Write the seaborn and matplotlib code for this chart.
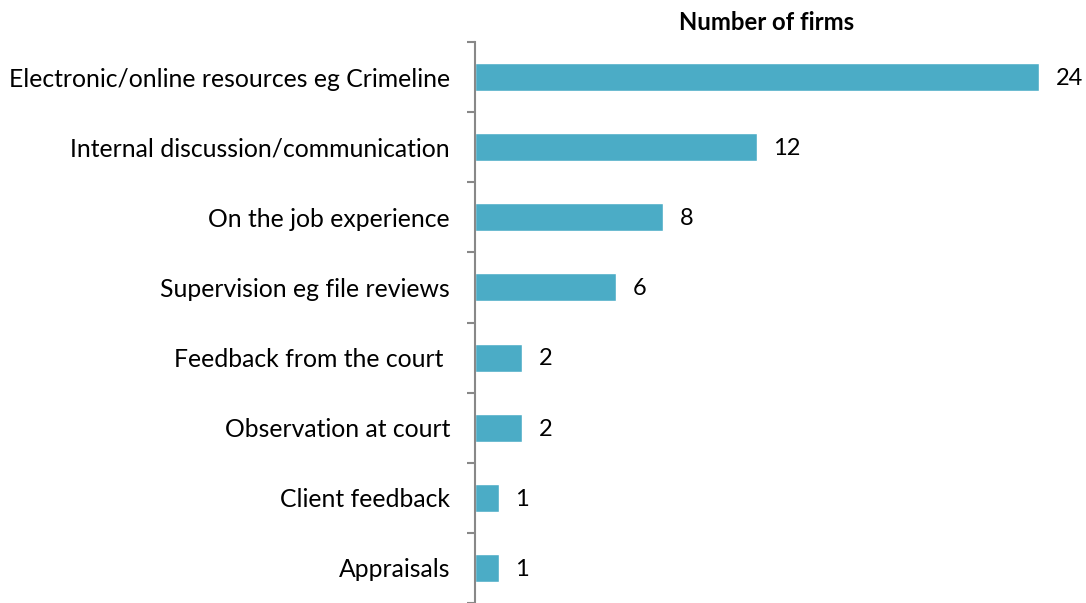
import seaborn as sns
import pandas as pd
import matplotlib.pyplot as plt
import numpy as np

sns.set_theme(style='white')
plt.rcParams['font.family'] = ['Lato', 'DejaVu Sans']

categories = ['Electronic/online resources eg Crimeline',
              'Internal discussion/communication',
              'On the job experience',
              'Supervision eg file reviews',
              'Feedback from the court ',
              'Observation at court',
              'Client feedback',
              'Appraisals']
firms = [24, 12, 8, 6, 2, 2, 1, 1]

df = pd.DataFrame({'method': categories, 'firms': firms})

fig = plt.figure(figsize=(10.86, 6.03), dpi=100)
ax = fig.add_axes([475 / 1086, 0.0, 1 - 475 / 1086, 1 - 42 / 603])

sns.barplot(data=df, x='firms', y='method', orient='h', color='#4BACC6',
            saturation=1, width=0.4, ax=ax)

# value labels right of each bar
for i, v in enumerate(firms):
    ax.text(v + 0.7, i + 0.02, str(v), va='center', ha='left', fontsize=17, color='black')

ax.set_xlim(0, 26)
ax.set_ylim(len(categories) - 0.5, -0.5)
ax.set_xlabel('')
ax.set_ylabel('')
ax.set_xticks([])
ax.set_yticks(np.arange(len(categories)))
ax.set_yticklabels(categories, fontsize=17.8, color='black')
ax.set_yticks(np.arange(len(categories) + 1) - 0.5, minor=True)
ax.tick_params(axis='y', which='major', length=0, pad=18)
ax.tick_params(axis='y', which='minor', left=True, length=6, width=1.5, color='#888888')

for s in ['top', 'right', 'bottom']:
    ax.spines[s].set_visible(False)
ax.spines['left'].set_color('#888888')
ax.spines['left'].set_linewidth(1.5)

fig.text(767 / 1086, 1 - 22 / 603, 'Number of firms', ha='center', va='center',
         fontsize=17.2, fontweight='bold', color='black')

fig.savefig('out.png', dpi=100)
